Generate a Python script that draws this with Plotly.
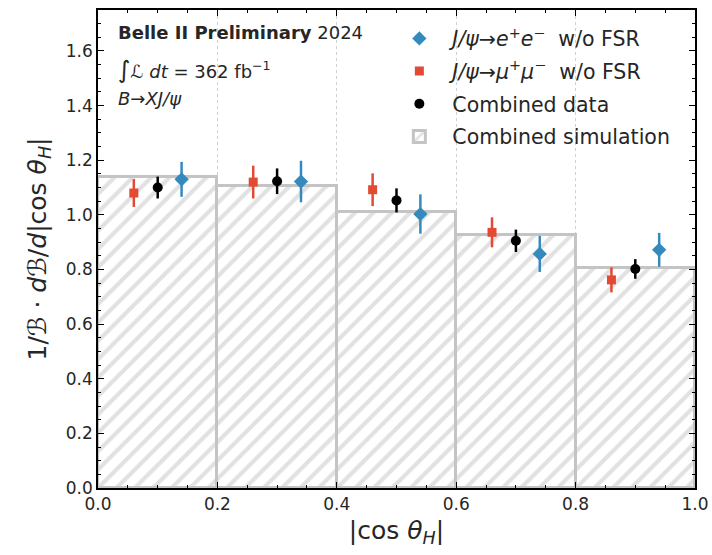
import plotly.graph_objects as go

# Binning in |cos theta_H|
bin_centers = [0.1, 0.3, 0.5, 0.7, 0.9]
bin_width = 0.2

# Combined simulation (normalised)
sim_values = [1.138, 1.105, 1.012, 0.927, 0.804]

# J/psi -> e+ e- (w/o FSR)
ee_x = [0.14, 0.34, 0.54, 0.74, 0.94]
ee_values = [1.130, 1.122, 1.003, 0.857, 0.872]
ee_errors = [0.064, 0.076, 0.072, 0.066, 0.062]

# J/psi -> mu+ mu- (w/o FSR)
mm_x = [0.06, 0.26, 0.46, 0.66, 0.86]
mm_values = [1.080, 1.120, 1.092, 0.936, 0.762]
mm_errors = [0.051, 0.060, 0.060, 0.055, 0.046]

# Combined data
comb_x = [0.10, 0.30, 0.50, 0.70, 0.90]
comb_values = [1.100, 1.123, 1.053, 0.905, 0.802]
comb_errors = [0.040, 0.047, 0.044, 0.041, 0.036]

BLUE = "#348ABD"
RED = "#E24A33"
GREY = "#c4c4c4"
FONT = "DejaVu Sans"

fig = go.Figure()

fig.add_trace(go.Bar(
    x=bin_centers, y=sim_values, width=[bin_width] * len(bin_centers),
    name="Combined simulation",
    marker=dict(
        color="white",
        line=dict(color=GREY, width=3),
        pattern=dict(shape="/", fgcolor=GREY, bgcolor="white",
                     size=13, solidity=0.32, fillmode="overlay"),
    ),
    legendgroup="sim", legendrank=4,
))


def data_trace(x, y, err, color, symbol, size, name, group, rank):
    return go.Scatter(
        x=x, y=y, mode="markers", name=name,
        marker=dict(color=color, symbol=symbol, size=size),
        error_y=dict(type="data", array=err, visible=True,
                     color=color, thickness=2.5, width=0),
        legendgroup=group, legendrank=rank,
    )


fig.add_trace(data_trace(mm_x, mm_values, mm_errors, RED, "square", 9,
                         "<i>J/ψ</i>→<i>μ</i><sup>+</sup><i>μ</i><sup>−</sup>  w/o FSR",
                         "mm", 2))
fig.add_trace(data_trace(comb_x, comb_values, comb_errors, "black", "circle", 10,
                         "Combined data", "comb", 3))
fig.add_trace(data_trace(ee_x, ee_values, ee_errors, BLUE, "diamond", 11,
                         "<i>J/ψ</i>→<i>e</i><sup>+</sup><i>e</i><sup>−</sup>  w/o FSR",
                         "ee", 1))

axis_common = dict(
    showline=True, linecolor="black", linewidth=1.5, mirror="allticks",
    ticks="inside", ticklen=6, tickwidth=1.2, tickcolor="black",
    tickfont=dict(family=FONT, size=17, color="#262626"),
    zeroline=False, automargin=False,
)

fig.update_xaxes(
    range=[0, 1.0], dtick=0.2, tickformat=".1f",
    showgrid=True, gridcolor="#d0d0d0", griddash="dot", gridwidth=1,
    minor=dict(ticks="inside", ticklen=3, dtick=0.05, tickcolor="black",
               showgrid=False),
    title=dict(text="|cos <i>θ</i><sub><i>H</i></sub>|",
               font=dict(family=FONT, size=25, color="#262626"), standoff=8),
    **axis_common,
)
fig.update_yaxes(
    range=[0, 1.75], dtick=0.2, tickformat=".1f", showgrid=False,
    minor=dict(ticks="inside", ticklen=3, dtick=0.05, tickcolor="black"),
    title=dict(text="1/ℬ · <i>d</i>ℬ/<i>d</i>|cos <i>θ</i><sub><i>H</i></sub>|",
               font=dict(family=FONT, size=25, color="#262626"), standoff=12),
    **axis_common,
)

annot_font = dict(family=FONT, size=18, color="#262626")
for text, ypos in [
    ("<b>Belle II Preliminary</b> 2024", 0.952),
    ("<span style='font-size:24px'>∫</span><i>ℒ dt</i> = 362 fb<sup>−1</sup>", 0.874),
    ("<i>B</i>→<i>XJ/ψ</i>", 0.815),
]:
    fig.add_annotation(x=0.03, y=ypos, xref="paper", yref="paper",
                       text=text, showarrow=False, xanchor="left",
                       yanchor="middle", font=annot_font)

fig.update_layout(
    width=712, height=555,
    margin=dict(l=98, r=17, t=10, b=67, autoexpand=False),
    paper_bgcolor="white", plot_bgcolor="white",
    bargap=0, barmode="overlay",
    showlegend=True,
    legend=dict(
        x=0.483, y=0.982, xanchor="left", yanchor="top",
        bgcolor="rgba(0,0,0,0)", borderwidth=0,
        font=dict(family=FONT, size=20.5, color="#262626"),
        traceorder="grouped", tracegroupgap=3,
        itemwidth=56,
    ),
)

fig.write_html("out.html")
